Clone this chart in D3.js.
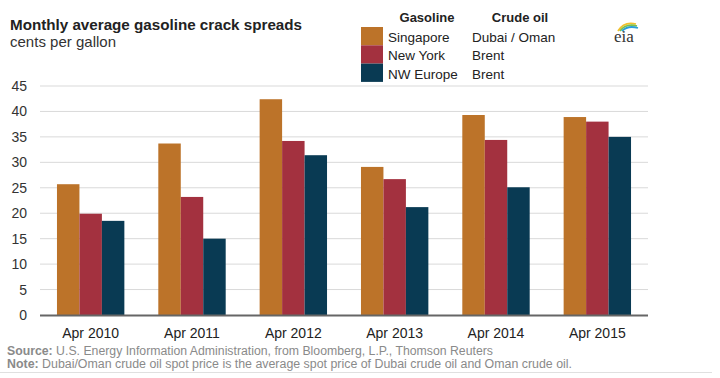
<!DOCTYPE html>
<html><head><meta charset="utf-8">
<script src="https://cdn.jsdelivr.net/npm/d3@7"></script>
<style>
body{margin:0;background:#fff;}
svg{display:block;}
text{font-family:"Liberation Sans",Arial,sans-serif;}
</style></head>
<body><svg id="c" width="720" height="378"></svg>
<script>
const categories = ["Apr 2010","Apr 2011","Apr 2012","Apr 2013","Apr 2014","Apr 2015"];
const singapore = [25.7, 33.7, 42.4, 29.1, 39.3, 38.9];
const newYork   = [19.9, 23.2, 34.2, 26.7, 34.4, 38.0];
const nwEurope  = [18.5, 15.0, 31.4, 21.2, 25.1, 35.0];
const seriesNames = ["Singapore","New York","NW Europe"];
const crudeNames = ["Dubai / Oman","Brent","Brent"];
const colors = ["#BC7329","#A3313F","#093A53"];
const yTicks = [0,5,10,15,20,25,30,35,40,45];

const svg = d3.select("#c");
const L = 40, R = 648, T = 86, B = 315;
const x = d3.scaleBand().domain(categories).range([L, R]).paddingInner(0.335).paddingOuter(0.1675);
const xs = d3.scaleBand().domain(seriesNames).range([0, x.bandwidth()]);
const y = d3.scaleLinear().domain([0,45]).range([B, T]);
const series = [singapore, newYork, nwEurope];

// gridlines
svg.append("g").selectAll("line").data(yTicks.filter(d=>d>0)).join("line")
  .attr("x1", L).attr("x2", R).attr("y1", d=>y(d)).attr("y2", d=>y(d))
  .attr("stroke", "#d9d9d9").attr("stroke-width", 1);

// y labels
svg.append("g").selectAll("text").data(yTicks).join("text")
  .attr("x", 27).attr("y", d=>y(d)+5).attr("text-anchor","end")
  .attr("font-size", 14).attr("fill", "#333").text(d=>d);

// bars
series.forEach((vals, si) => {
  svg.append("g").selectAll("rect").data(vals).join("rect")
    .attr("x", (d,i)=>x(categories[i]) + xs(seriesNames[si]))
    .attr("width", xs.bandwidth())
    .attr("y", d=>y(d)).attr("height", d=>B - y(d))
    .attr("fill", colors[si]);
});

// axis line
svg.append("line").attr("x1", L).attr("x2", R).attr("y1", B+0.5).attr("y2", B+0.5)
  .attr("stroke", "#666").attr("stroke-width", 2);

// x labels
svg.append("g").selectAll("text").data(categories).join("text")
  .attr("x", d=>x(d)+x.bandwidth()/2).attr("y", 338).attr("text-anchor","middle")
  .attr("font-size", 14).attr("fill", "#222")
  .text(d=>d);

// title
svg.append("text").attr("x", 10).attr("y", 30).attr("font-size", 15).attr("font-weight","bold")
  .attr("fill","#222").attr("textLength", 292).attr("lengthAdjust","spacingAndGlyphs")
  .text("Monthly  average gasoline crack spreads");
svg.append("text").attr("x", 10).attr("y", 47).attr("font-size", 14.5)
  .attr("fill","#333").attr("textLength", 106).attr("lengthAdjust","spacingAndGlyphs")
  .text("cents per gallon");

// legend
svg.append("text").attr("x", 427).attr("y", 22).attr("text-anchor","middle").attr("font-size",13)
  .attr("font-weight","bold").attr("fill","#222").text("Gasoline");
svg.append("text").attr("x", 520).attr("y", 22).attr("text-anchor","middle").attr("font-size",13)
  .attr("font-weight","bold").attr("fill","#222").text("Crude oil");
seriesNames.forEach((n,i)=>{
  svg.append("rect").attr("x",361).attr("y",27+i*18.3).attr("width",22).attr("height",18.3).attr("fill",colors[i]);
  svg.append("text").attr("x",388).attr("y",42+i*18.3).attr("font-size",13.5).attr("fill","#222").text(n);
  svg.append("text").attr("x",472).attr("y",42+i*18.3).attr("font-size",13.5).attr("fill","#222").text(crudeNames[i]);
});

// eia logo
const lg = svg.append("g");
lg.append("path").attr("d","M618,31 Q624,21 636,24").attr("fill","none").attr("stroke","#f2c12e").attr("stroke-width",1.8);
lg.append("path").attr("d","M620,31 Q626,23 637,26").attr("fill","none").attr("stroke","#7cc04b").attr("stroke-width",1.8);
lg.append("path").attr("d","M622,31 Q628,25 638,28").attr("fill","none").attr("stroke","#2a9fd8").attr("stroke-width",1.8);
lg.append("text").attr("x",614).attr("y",42).attr("font-size",17)
  .style("font-family","'Liberation Serif','Times New Roman',serif").attr("fill","#333").text("eia");

// source & note
const src = svg.append("text").attr("x",7).attr("y",355).attr("font-size",12).attr("fill","#8a8a8a")
  .attr("textLength", 486).attr("lengthAdjust","spacingAndGlyphs");
src.append("tspan").attr("font-weight","bold").text("Source:");
src.append("tspan").text(" U.S. Energy Information Administration, from Bloomberg, L.P., Thomson Reuters");
const note = svg.append("text").attr("x",7).attr("y",368).attr("font-size",12).attr("fill","#8a8a8a")
  .attr("textLength", 565).attr("lengthAdjust","spacingAndGlyphs");
note.append("tspan").attr("font-weight","bold").text("Note:");
note.append("tspan").text(" Dubai/Oman crude oil spot price is the average spot price of Dubai crude oil and Oman crude oil.");
svg.append("line").attr("x1",0).attr("x2",712).attr("y1",372.5).attr("y2",372.5).attr("stroke","#e0e0e0");
</script></body></html>
